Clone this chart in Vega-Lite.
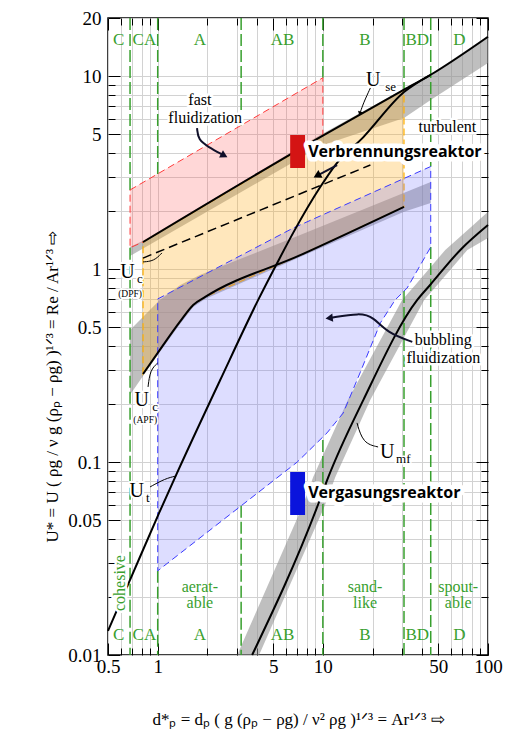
{
"$schema": "https://vega.github.io/schema/vega-lite/v6.json",
"width": 380, "height": 637,
"autosize": "none",
"padding": {"left": 108, "top": 18, "right": 17, "bottom": 87},
"background": "white",
"config": {"view": {"stroke": "black", "strokeWidth": 1.5}},
"datasets": {
 "green": [
  {"x":0.68,"y":20,"y2":2.57},{"x":0.68,"y":1.29,"y2":0.01},
  {"x":1,"y":20,"y2":3.11},{"x":1,"y":0.0273,"y2":0.01},
  {"x":3.2,"y":20,"y2":5.5},{"x":3.2,"y":0.0593,"y2":0.01},
  {"x":10,"y":20,"y2":9.8},{"x":10,"y":0.13,"y2":0.01},
  {"x":31,"y":20,"y2":8.5},{"x":31,"y":0.77,"y2":0.01},
  {"x":45,"y":20,"y2":3.4},{"x":45,"y":1.3,"y2":0.01}
 ],
 "bands": [
  {"id":"ub","o":1,"x":0.68,"y":1.30},{"id":"ub","o":2,"x":0.815,"y":1.40},{"id":"ub","o":3,"x":9.64,"y":4.95},{"id":"ub","o":4,"x":31,"y":8.6},{"id":"ub","o":5,"x":44.7,"y":10.2},{"id":"ub","o":6,"x":100,"y":16.2},{"id":"ub","o":7,"x":100,"y":11.7},{"id":"ub","o":8,"x":44.7,"y":7.5},{"id":"ub","o":9,"x":31,"y":6.07},{"id":"ub","o":10,"x":10.05,"y":4.40},{"id":"ub","o":11,"x":0.68,"y":1.17},
  {"id":"ab","o":1,"x":0.68,"y":0.483},{"id":"ab","o":2,"x":1.03,"y":0.692},{"id":"ab","o":3,"x":1.37,"y":0.827},{"id":"ab","o":4,"x":1.80,"y":0.932},{"id":"ab","o":5,"x":7.29,"y":1.50},{"id":"ab","o":6,"x":45,"y":2.83},{"id":"ab","o":7,"x":45,"y":2.2},{"id":"ab","o":8,"x":31,"y":1.98},{"id":"ab","o":9,"x":7.29,"y":1.155},{"id":"ab","o":10,"x":1.94,"y":0.70},{"id":"ab","o":11,"x":1.64,"y":0.636},{"id":"ab","o":12,"x":1.37,"y":0.52},{"id":"ab","o":13,"x":1.03,"y":0.372},{"id":"ab","o":14,"x":0.815,"y":0.279},{"id":"ab","o":15,"x":0.68,"y":0.223},
  {"id":"mb","o":1,"x":3.03,"y":0.01},{"id":"mb","o":2,"x":7.5,"y":0.0585},{"id":"mb","o":3,"x":8.74,"y":0.0837},{"id":"mb","o":4,"x":14.2,"y":0.21},{"id":"mb","o":5,"x":30.2,"y":0.692},{"id":"mb","o":6,"x":36.3,"y":0.827},{"id":"mb","o":7,"x":55.1,"y":1.256},{"id":"mb","o":8,"x":81.5,"y":1.69},{"id":"mb","o":9,"x":100,"y":1.98},{"id":"mb","o":10,"x":100,"y":1.45},{"id":"mb","o":11,"x":75,"y":1.256},{"id":"mb","o":12,"x":49.3,"y":0.827},{"id":"mb","o":13,"x":41.1,"y":0.692},{"id":"mb","o":14,"x":19.4,"y":0.21},{"id":"mb","o":15,"x":11.9,"y":0.0837},{"id":"mb","o":16,"x":10.2,"y":0.0585},{"id":"mb","o":17,"x":4.11,"y":0.01}
 ],
 "reg": [
  {"id":"red","o":1,"x":0.68,"y":2.57},{"id":"red","o":2,"x":10,"y":9.8},{"id":"red","o":3,"x":10,"y":4.92},{"id":"red","o":4,"x":0.815,"y":1.38},{"id":"red","o":5,"x":0.68,"y":1.29},{"id":"red","o":6,"x":0.68,"y":2.57},
  {"id":"orange","o":1,"x":0.815,"y":1.38},{"id":"orange","o":2,"x":9.64,"y":4.83},{"id":"orange","o":3,"x":31,"y":8.5},{"id":"orange","o":4,"x":31,"y":2.1},{"id":"orange","o":5,"x":7.3,"y":1.18},{"id":"orange","o":6,"x":1.94,"y":0.717},{"id":"orange","o":7,"x":1.64,"y":0.652},{"id":"orange","o":8,"x":1.36,"y":0.532},{"id":"orange","o":9,"x":1.03,"y":0.381},{"id":"orange","o":10,"x":0.815,"y":0.286},{"id":"orange","o":11,"x":0.815,"y":1.38},
  {"id":"blue","o":1,"x":1,"y":0.70},{"id":"blue","o":2,"x":6.6,"y":1.63},{"id":"blue","o":3,"x":45,"y":3.4},{"id":"blue","o":4,"x":45,"y":1.30},{"id":"blue","o":5,"x":32.4,"y":0.798},{"id":"blue","o":6,"x":27.4,"y":0.692},{"id":"blue","o":7,"x":22.3,"y":0.526},{"id":"blue","o":8,"x":16.8,"y":0.290},{"id":"blue","o":9,"x":13.3,"y":0.1797},{"id":"blue","o":10,"x":10.6,"y":0.1416},{"id":"blue","o":11,"x":7.0,"y":0.100},{"id":"blue","o":12,"x":1,"y":0.0273},{"id":"blue","o":13,"x":1,"y":0.70}
 ],
 "curves": [
  {"id":"use","o":1,"x":0.815,"y":1.38},{"id":"use","o":2,"x":9.64,"y":4.83},{"id":"use","o":3,"x":31,"y":8.5},{"id":"use","o":4,"x":44.7,"y":10.13},{"id":"use","o":5,"x":100,"y":16.0},
  {"id":"ut","o":1,"x":0.5,"y":0.01334},{"id":"ut","o":2,"x":0.68,"y":0.0245},{"id":"ut","o":3,"x":1.02,"y":0.0545},{"id":"ut","o":4,"x":1.31,"y":0.0878},{"id":"ut","o":5,"x":2.39,"y":0.266},{"id":"ut","o":6,"x":4.06,"y":0.692},{"id":"ut","o":7,"x":5.29,"y":1.075},{"id":"ut","o":8,"x":6.61,"y":1.54},{"id":"ut","o":9,"x":9.64,"y":2.66},{"id":"ut","o":10,"x":11.9,"y":3.46},{"id":"ut","o":11,"x":17.6,"y":4.83},{"id":"ut","o":12,"x":31,"y":8.27},{"id":"ut","o":13,"x":44.7,"y":10.13},
  {"id":"apf","o":1,"x":0.815,"y":0.286},{"id":"apf","o":2,"x":1.03,"y":0.381},{"id":"apf","o":3,"x":1.36,"y":0.532},{"id":"apf","o":4,"x":1.64,"y":0.652},{"id":"apf","o":5,"x":1.94,"y":0.717},{"id":"apf","o":6,"x":7.3,"y":1.18},{"id":"apf","o":7,"x":31,"y":2.1},
  {"id":"umf","o":1,"x":3.73,"y":0.01},{"id":"umf","o":2,"x":9.24,"y":0.0585},{"id":"umf","o":3,"x":10.8,"y":0.0837},{"id":"umf","o":4,"x":17.6,"y":0.21},{"id":"umf","o":5,"x":37.3,"y":0.692},{"id":"umf","o":6,"x":44.6,"y":0.827},{"id":"umf","o":7,"x":68,"y":1.256},{"id":"umf","o":8,"x":100,"y":1.69}
 ],
 "dpf": [{"o":1,"x":0.815,"y":1.14},{"o":2,"x":19.4,"y":3.46}],
 "lead": [
  {"id":"l1","o":1,"x":0.815,"y":1.089},{"id":"l1","o":2,"x":0.95,"y":1.10},{"id":"l1","o":3,"x":1.06,"y":1.212},
  {"id":"l2","o":1,"x":0.874,"y":0.245},{"id":"l2","o":2,"x":0.9,"y":0.30},{"id":"l2","o":3,"x":1.0,"y":0.326},
  {"id":"l3","o":1,"x":0.899,"y":0.0743},{"id":"l3","o":2,"x":1.11,"y":0.0821},{"id":"l3","o":3,"x":1.29,"y":0.0846},
  {"id":"l4","o":1,"x":21.6,"y":0.1197},{"id":"l4","o":2,"x":17.5,"y":0.125},{"id":"l4","o":3,"x":16.1,"y":0.1595},
  {"id":"l5","o":1,"x":19.4,"y":8.68},{"id":"l5","o":2,"x":17.6,"y":7.25},{"id":"l5","o":3,"x":16.8,"y":6.44}
 ],
 "arr": [
  {"id":"a1","o":1,"x":1.73,"y":5.38},{"id":"a1","o":2,"x":1.76,"y":4.67},{"id":"a1","o":3,"x":2.02,"y":4.30},{"id":"a1","o":4,"x":2.49,"y":3.90},
  {"id":"a2","o":1,"x":34.8,"y":0.4193},{"id":"a2","o":2,"x":24.5,"y":0.467},{"id":"a2","o":3,"x":20.2,"y":0.565},{"id":"a2","o":4,"x":16.8,"y":0.593},{"id":"a2","o":5,"x":11.1,"y":0.558},
  {"id":"a3","o":1,"x":12.2,"y":3.46},{"id":"a3","o":2,"x":9.37,"y":3.07}
 ],
 "react": [
  {"c":"V","x":6.34,"x2":7.8,"y":3.34,"y2":4.95},
  {"c":"G","x":6.34,"x2":7.8,"y":0.0532,"y2":0.0889}
 ],
 "lab": [
  {"k":"g","t":"C","x":0.58,"y":15.4},{"k":"g","t":"CA","x":0.83,"y":15.4},{"k":"g","t":"A","x":1.8,"y":15.4},{"k":"g","t":"AB","x":5.7,"y":15.4},{"k":"g","t":"B","x":18,"y":15.4},{"k":"g","t":"BD","x":37.3,"y":15.4},{"k":"g","t":"D","x":67,"y":15.4},
  {"k":"g","t":"C","x":0.58,"y":0.0127},{"k":"g","t":"CA","x":0.83,"y":0.0127},{"k":"g","t":"A","x":1.8,"y":0.0127},{"k":"g","t":"AB","x":5.7,"y":0.0127},{"k":"g","t":"B","x":18,"y":0.0127},{"k":"g","t":"BD","x":37.3,"y":0.0127},{"k":"g","t":"D","x":67,"y":0.0127},
  {"k":"gw","t":"aerat-","x":1.8,"y":0.0225},{"k":"gw","t":"able","x":1.8,"y":0.0186},{"k":"gw","t":"sand-","x":18,"y":0.0225},{"k":"gw","t":"like","x":18,"y":0.0186},{"k":"gw","t":"spout-","x":66,"y":0.0225},{"k":"gw","t":"able","x":66,"y":0.0186},
  {"k":"coh","t":"cohesive","x":0.59,"y":0.0236},
  {"k":"a","t":"fast","x":1.8,"y":7.5},{"k":"a","t":"fluidization","x":1.94,"y":6.07},{"k":"a","t":"turbulent","x":56.7,"y":5.45},{"k":"a","t":"bubbling","x":53.6,"y":0.429},{"k":"a","t":"fluidization","x":53.6,"y":0.346},
  {"k":"U","t":"U","x":20.2,"y":9.54},{"k":"U","t":"U","x":0.655,"y":0.97},{"k":"U","t":"U","x":0.8,"y":0.21},{"k":"U","t":"U","x":0.745,"y":0.071},{"k":"U","t":"U","x":24.5,"y":0.1128},
  {"k":"s","t":"se","x":25.7,"y":8.75},{"k":"s","t":"c","x":0.78,"y":0.89},{"k":"s","t":"c","x":0.964,"y":0.193},{"k":"s","t":"t","x":0.87,"y":0.0648},{"k":"s","t":"mf","x":30.7,"y":0.1035},
  {"k":"p","t":"(DPF)","x":0.68,"y":0.742},{"k":"p","t":"(APF)","x":0.84,"y":0.166}
 ],
 "blab": [
  {"t":"Verbrennungsreaktor","x":8.15,"y":4.04},{"t":"Vergasungsreaktor","x":8.15,"y":0.0692}
 ]
},
"layer": [
 {
  "encoding": {
   "x": {"field": "x", "type": "quantitative",
    "scale": {"type": "log", "domain": [0.5, 100], "nice": false},
    "axis": {
     "title": "d*ₚ = dₚ ( g (ρₚ − ρg) / ν² ρg )¹ᐟ³ = Ar¹ᐟ³   ⇨",
     "titleFont": "Liberation Serif", "titleFontSize": 17, "titleFontWeight": "normal", "titleColor": "black", "titlePadding": 30,
     "values": [0.5,0.6,0.7,0.8,0.9,1,2,3,4,5,6,7,8,9,10,20,30,40,50,60,70,80,90,100],
     "format": "~g",
     "labelExpr": "indexof([0.5,1,5,10,50,100], datum.value) >= 0 ? datum.label : ''",
     "labelFont": "Liberation Serif", "labelFontSize": 19, "labelColor": "black", "labelPadding": 14,
     "labelFlush": false, "labelOverlap": false, "labelBound": false,
     "grid": true, "gridColor": "#d2d2d2", "gridWidth": 1,
     "domain": false,
     "ticks": true, "tickColor": "black", "tickWidth": 1,
     "tickSize": {"condition": {"test": "indexof([0.5,1,5,10,50,100], datum.value) >= 0", "value": -12}, "value": -7}
    }},
   "y": {"field": "y", "type": "quantitative",
    "scale": {"type": "log", "domain": [0.01, 20], "nice": false},
    "axis": {
     "title": "U* = U ( ρg / ν g (ρₚ − ρg) )¹ᐟ³ = Re / Ar¹ᐟ³   ⇨",
     "titleFont": "Liberation Serif", "titleFontSize": 17, "titleFontWeight": "normal", "titleColor": "black", "titlePadding": 6,
     "titleY": 368,
     "values": [0.01,0.02,0.03,0.04,0.05,0.06,0.07,0.08,0.09,0.1,0.2,0.3,0.4,0.5,0.6,0.7,0.8,0.9,1,2,3,4,5,6,7,8,9,10,20],
     "format": "~g",
     "labelExpr": "indexof([0.01,0.05,0.1,0.5,1,5,10,20], datum.value) >= 0 ? datum.label : ''",
     "labelFont": "Liberation Serif", "labelFontSize": 19, "labelColor": "black", "labelPadding": 19,
     "labelFlush": false, "labelOverlap": false, "labelBound": false,
     "grid": true, "gridColor": "#d2d2d2", "gridWidth": 1,
     "domain": false,
     "ticks": true, "tickColor": "black", "tickWidth": 1,
     "tickSize": {"condition": {"test": "indexof([0.01,0.05,0.1,0.5,1,5,10,20], datum.value) >= 0", "value": -12}, "value": -7}
    }}
  },
  "layer": [
   {"data": {"name": "bands"}, "mark": {"type": "line", "fill": "#8a8a8a", "fillOpacity": 0.55, "stroke": "#8a8a8a", "strokeOpacity": 0, "interpolate": "linear"},
    "encoding": {"detail": {"field": "id"}, "order": {"field": "o", "type": "quantitative"}}},
   {"data": {"name": "green"}, "mark": {"type": "rule", "color": "#38a02e", "strokeWidth": 1.5, "strokeDash": [12, 4]},
    "encoding": {"y2": {"field": "y2"}}},
   {"data": {"name": "reg"}, "transform": [{"filter": "datum.id == 'red'"}],
    "mark": {"type": "line", "fill": "#ff4a4a", "fillOpacity": 0.22, "stroke": "#ff3a3a", "strokeWidth": 1, "strokeDash": [7, 4], "interpolate": "linear"},
    "encoding": {"order": {"field": "o", "type": "quantitative"}}},
   {"data": {"name": "reg"}, "transform": [{"filter": "datum.id == 'orange'"}],
    "mark": {"type": "line", "fill": "#ffb020", "fillOpacity": 0.3, "stroke": "#ffb000", "strokeWidth": 1.2, "strokeDash": [7, 4], "interpolate": "linear"},
    "encoding": {"order": {"field": "o", "type": "quantitative"}}},
   {"data": {"name": "reg"}, "transform": [{"filter": "datum.id == 'blue'"}],
    "mark": {"type": "line", "fill": "#6464ff", "fillOpacity": 0.22, "stroke": "#3a3aff", "strokeWidth": 1, "strokeDash": [7, 4], "interpolate": "linear"},
    "encoding": {"order": {"field": "o", "type": "quantitative"}}},
   {"data": {"name": "curves"}, "mark": {"type": "line", "color": "black", "strokeWidth": 2, "interpolate": "monotone"},
    "encoding": {"detail": {"field": "id"}, "order": {"field": "o", "type": "quantitative"}}},
   {"data": {"name": "dpf"}, "mark": {"type": "line", "color": "black", "strokeWidth": 1.5, "strokeDash": [9, 5]},
    "encoding": {"order": {"field": "o", "type": "quantitative"}}},
   {"data": {"name": "lead"}, "mark": {"type": "line", "color": "black", "strokeWidth": 1, "interpolate": "basis"},
    "encoding": {"detail": {"field": "id"}, "order": {"field": "o", "type": "quantitative"}}},
   {"data": {"name": "arr"}, "mark": {"type": "line", "color": "#10102a", "strokeWidth": 2, "interpolate": "basis"},
    "encoding": {"detail": {"field": "id"}, "order": {"field": "o", "type": "quantitative"}}},
   {"data": {"values": [{"x": 2.49, "y": 3.9}]}, "mark": {"type": "point", "shape": "triangle", "angle": 118, "size": 70, "filled": true, "color": "#10102a", "opacity": 1}},
   {"data": {"values": [{"x": 11.1, "y": 0.558}]}, "mark": {"type": "point", "shape": "triangle", "angle": 264, "size": 70, "filled": true, "color": "#10102a", "opacity": 1}},
   {"data": {"values": [{"x": 9.37, "y": 3.07}]}, "mark": {"type": "point", "shape": "triangle", "angle": 242, "size": 80, "filled": true, "color": "black", "opacity": 1}},
   {"data": {"values": [{"x": 16.8, "y": 6.44}]}, "mark": {"type": "point", "shape": "triangle", "angle": 197, "size": 25, "filled": true, "color": "black", "opacity": 1}},
   {"data": {"name": "react"}, "mark": {"type": "rect"},
    "encoding": {"x2": {"field": "x2"}, "y2": {"field": "y2"},
     "color": {"field": "c", "type": "nominal", "scale": {"domain": ["V", "G"], "range": ["#d41414", "#0a14dc"]}, "legend": null}}},
   {"data": {"name": "lab"}, "transform": [{"filter": "datum.k == 'a'"}],
    "mark": {"type": "text", "font": "Liberation Serif", "fontSize": 16, "fill": "white", "stroke": "white", "strokeWidth": 5, "strokeJoin": "round"},
    "encoding": {"text": {"field": "t", "type": "nominal"}}},
   {"data": {"name": "lab"}, "transform": [{"filter": "datum.k == 'U'"}],
    "mark": {"type": "text", "font": "Liberation Serif", "fontSize": 20, "fill": "white", "stroke": "white", "strokeWidth": 4, "strokeJoin": "round"},
    "encoding": {"text": {"field": "t", "type": "nominal"}}},
   {"data": {"name": "lab"}, "transform": [{"filter": "datum.k == 's'"}],
    "mark": {"type": "text", "font": "Liberation Serif", "fontSize": 13, "fill": "white", "stroke": "white", "strokeWidth": 3, "strokeJoin": "round"},
    "encoding": {"text": {"field": "t", "type": "nominal"}}},
   {"data": {"name": "lab"}, "transform": [{"filter": "datum.k == 'p'"}],
    "mark": {"type": "text", "font": "Liberation Serif", "fontSize": 9.5, "fill": "white", "stroke": "white", "strokeWidth": 3, "strokeJoin": "round"},
    "encoding": {"text": {"field": "t", "type": "nominal"}}},
   {"data": {"name": "lab"}, "transform": [{"filter": "datum.k == 'coh'"}],
    "mark": {"type": "text", "font": "Liberation Serif", "fontSize": 16, "angle": 270, "fill": "white", "stroke": "white", "strokeWidth": 5, "strokeJoin": "round"},
    "encoding": {"text": {"field": "t", "type": "nominal"}}},
   {"data": {"name": "blab"},
    "mark": {"type": "text", "font": "Open Sans", "fontWeight": "bold", "fontSize": 16, "align": "left", "fill": "white", "stroke": "white", "strokeWidth": 9, "strokeJoin": "round"},
    "encoding": {"text": {"field": "t", "type": "nominal"}}},
   {"data": {"name": "lab"}, "transform": [{"filter": "datum.k == 'g'"}],
    "mark": {"type": "text", "font": "Liberation Serif", "fontSize": 17, "color": "#38a02e"},
    "encoding": {"text": {"field": "t", "type": "nominal"}}},
   {"data": {"name": "lab"}, "transform": [{"filter": "datum.k == 'gw'"}],
    "mark": {"type": "text", "font": "Liberation Serif", "fontSize": 16, "color": "#38a02e"},
    "encoding": {"text": {"field": "t", "type": "nominal"}}},
   {"data": {"name": "lab"}, "transform": [{"filter": "datum.k == 'coh'"}],
    "mark": {"type": "text", "font": "Liberation Serif", "fontSize": 16, "angle": 270, "color": "#38a02e"},
    "encoding": {"text": {"field": "t", "type": "nominal"}}},
   {"data": {"name": "lab"}, "transform": [{"filter": "datum.k == 'a'"}],
    "mark": {"type": "text", "font": "Liberation Serif", "fontSize": 16, "color": "black"},
    "encoding": {"text": {"field": "t", "type": "nominal"}}},
   {"data": {"name": "lab"}, "transform": [{"filter": "datum.k == 'U'"}],
    "mark": {"type": "text", "font": "Liberation Serif", "fontSize": 20, "color": "black"},
    "encoding": {"text": {"field": "t", "type": "nominal"}}},
   {"data": {"name": "lab"}, "transform": [{"filter": "datum.k == 's'"}],
    "mark": {"type": "text", "font": "Liberation Serif", "fontSize": 13, "color": "black"},
    "encoding": {"text": {"field": "t", "type": "nominal"}}},
   {"data": {"name": "lab"}, "transform": [{"filter": "datum.k == 'p'"}],
    "mark": {"type": "text", "font": "Liberation Serif", "fontSize": 9.5, "color": "black"},
    "encoding": {"text": {"field": "t", "type": "nominal"}}},
   {"data": {"name": "blab"},
    "mark": {"type": "text", "font": "Open Sans", "fontWeight": "bold", "fontSize": 16, "align": "left", "color": "black"},
    "encoding": {"text": {"field": "t", "type": "nominal"}}}
  ]
 },
 {
  "data": {"values": [{"x": 1, "y": 1}]},
  "mark": {"type": "point", "opacity": 0},
  "encoding": {
   "x": {"field": "x", "type": "quantitative",
    "scale": {"type": "log", "domain": [0.5, 100], "nice": false},
    "axis": {"orient": "top", "title": null, "labels": false, "grid": false, "domain": false,
     "values": [0.5,0.6,0.7,0.8,0.9,1,2,3,4,5,6,7,8,9,10,20,30,40,50,60,70,80,90,100],
     "ticks": true, "tickColor": "black", "tickWidth": 1,
     "tickSize": {"condition": {"test": "indexof([0.5,1,5,10,50,100], datum.value) >= 0", "value": -12}, "value": -7}}},
   "y": {"field": "y", "type": "quantitative",
    "scale": {"type": "log", "domain": [0.01, 20], "nice": false},
    "axis": {"orient": "right", "title": null, "labels": false, "grid": false, "domain": false,
     "values": [0.01,0.02,0.03,0.04,0.05,0.06,0.07,0.08,0.09,0.1,0.2,0.3,0.4,0.5,0.6,0.7,0.8,0.9,1,2,3,4,5,6,7,8,9,10,20],
     "ticks": true, "tickColor": "black", "tickWidth": 1,
     "tickSize": {"condition": {"test": "indexof([0.01,0.05,0.1,0.5,1,5,10,20], datum.value) >= 0", "value": -12}, "value": -7}}}
  }
 }
],
"resolve": {"scale": {"x": "independent", "y": "independent"}}
}
